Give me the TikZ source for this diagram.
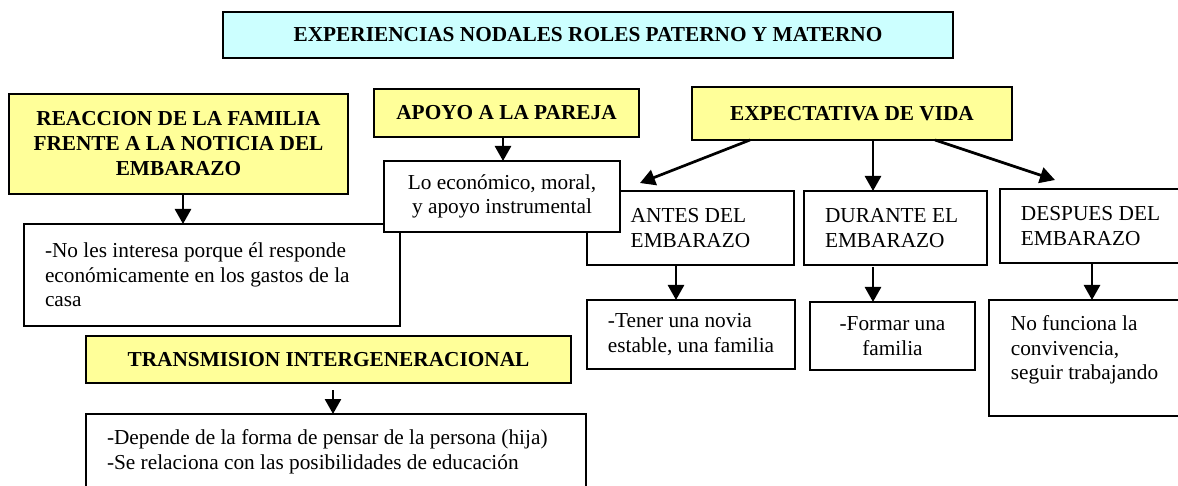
\documentclass[tikz,border=0pt]{standalone}
\usepackage{fontspec}
\setmainfont{Liberation Serif}
\usetikzlibrary{arrows.meta,calc}
\definecolor{boxyellow}{HTML}{FFFF99}
\definecolor{boxcyan}{HTML}{CCFFFF}
\begin{document}
\begin{tikzpicture}[x=1pt,y=-1pt,
  base/.style={draw=black, line width=2pt, inner sep=0pt, outer sep=0pt,
    font=\fontsize{21.3pt}{24.5pt}\selectfont},
  ybox/.style={base, fill=boxyellow, align=center, font=\fontsize{21.3pt}{25pt}\selectfont\bfseries},
  cbox/.style={base, fill=boxcyan, align=center, font=\fontsize{21.3pt}{25pt}\selectfont\bfseries},
  wbox/.style={base, fill=white, align=flush left},
  wcbox/.style={base, fill=white, align=center},
  arr/.style={line width=2.7pt, -{Triangle[width=16pt,length=15pt]}}]
\useasboundingbox (0,0) rectangle (1178,486);

% title
\node[cbox, minimum width=730pt, minimum height=46pt] (title) at (588,35)
  {EXPERIENCIAS NODALES ROLES PATERNO Y MATERNO};

% yellow headers
\node[ybox, minimum width=339pt, minimum height=100pt] (reac) at (178.5,144)
  {REACCION DE LA FAMILIA\\FRENTE A LA NOTICIA DEL\\EMBARAZO};
\node[ybox, minimum width=265pt, minimum height=48pt] (apoyo) at (506.5,113)
  {APOYO A LA PAREJA};
\node[ybox, minimum width=320pt, minimum height=53pt] (expect) at (852,113.5)
  {EXPECTATIVA DE VIDA};
\node[ybox, minimum width=485pt, minimum height=47pt] (trans) at (328.5,359.5)
  {TRANSMISION INTERGENERACIONAL};

% white boxes (drawn before the overlapping one)
\node[wbox, minimum width=376pt, minimum height=102pt, text width=334pt] (left) at (212,275)
  {-No les interesa porque él responde\\económicamente en los gastos de la\\casa};
\node[wbox, minimum width=207pt, minimum height=74pt] (antes) at (690.5,228)
  {ANTES DEL\\EMBARAZO};
\node[wbox, minimum width=183pt, minimum height=74pt, text width=141pt] (durante) at (895.5,228)
  {DURANTE EL\\EMBARAZO};
\node[wbox, minimum width=181pt, minimum height=74pt] (despues) at (1090.5,226)
  {DESPUES DEL\\EMBARAZO};
\node[wcbox, minimum width=236pt, minimum height=71pt] (lo) at (502,196.5)
  {Lo económico, moral,\\y apoyo instrumental};
\node[wbox, minimum width=208pt, minimum height=69pt] (tener) at (691,334.5)
  {-Tener una novia\\estable, una familia};
\node[wcbox, minimum width=165pt, minimum height=68pt] (formar) at (892.5,336)
  {-Formar una\\familia};
\node[wbox, minimum width=191pt, minimum height=116pt, text depth=20pt] (nofun) at (1084.5,358)
  {No funciona la\\convivencia,\\seguir trabajando};
\node[wbox, minimum width=500pt, minimum height=76pt, text width=458pt] (dep) at (336,452)
  {-Depende de la forma de pensar de la persona (hija)\\-Se relaciona con las posibilidades de educación};

% connector start/end points
\coordinate (s1) at ($(reac.south)+(4.5,0)$);
\coordinate (s2) at ($(apoyo.south)+(-3.5,0)$);
\coordinate (s3) at ($(expect.south)+(-102,0)$);
\coordinate (e3) at ($(antes.north west)+(53,-8)$);
\coordinate (s4) at ($(expect.south)+(21,0)$);
\coordinate (s5) at ($(expect.south)+(83,0)$);
\coordinate (e5) at ($(despues.north west)+(55,-9)$);
\coordinate (s6) at ($(antes.south)+(-14.5,0)$);
\coordinate (s7) at ($(durante.south)+(-22.5,2)$);
\coordinate (s8) at ($(despues.south)+(1.5,0)$);
\coordinate (s9) at ($(trans.south)+(4.5,7)$);

\draw[arr] (s1) -- (s1 |- left.north);
\draw[arr] (s2) -- (s2 |- lo.north);
\draw[arr] (s3) -- (e3);
\draw[arr] (s4) -- (s4 |- durante.north);
\draw[arr] (s5) -- (e5);
\draw[arr] (s6) -- (s6 |- tener.north);
\draw[arr] (s7) -- (s7 |- formar.north);
\draw[arr] (s8) -- (s8 |- nofun.north);
\draw[arr] (s9) -- (s9 |- dep.north);
\end{tikzpicture}
\end{document}
